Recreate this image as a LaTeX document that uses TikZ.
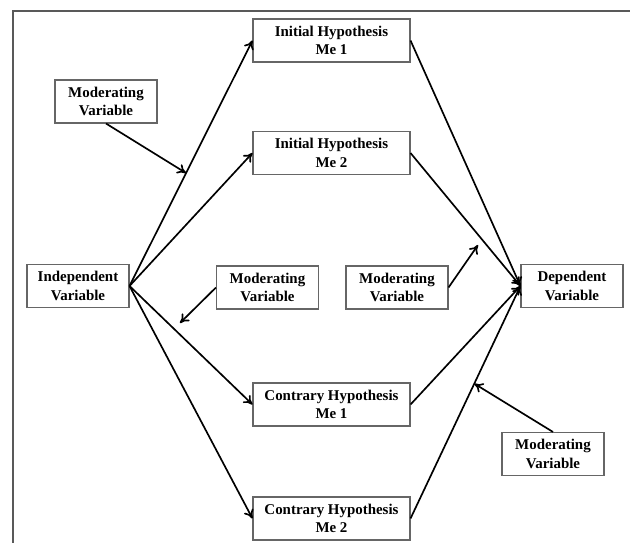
\documentclass[tikz,border=0pt]{standalone}
\usepackage{fontspec}
\setmainfont{Liberation Serif}
\usetikzlibrary{arrows.meta}

\begin{document}
\begin{tikzpicture}[
    var/.style={draw=black!60, line width=0.6pt, align=center, minimum width=2.04cm, minimum height=0.86cm, inner sep=1pt, font=\bfseries\fontsize{8.5}{10.4}\selectfont},
    hyp/.style={var, minimum width=3.14cm},
    link/.style={-{To[length=5pt,width=6pt]}, line width=0.95pt}]
                \useasboundingbox (0,0) rectangle (12.6,-10.86);
                \draw[black!65, line width=0.8pt] (0.26,-10.86) -- (0.26,-0.22) -- (12.6,-0.22);
                % variables
                \node[var] (indep) at (1.56,-5.72) {Independent\\Variable};
                \node[var] (dep) at (11.44,-5.72) {Dependent\\Variable};
                \node[hyp] (init1) at (6.63,-0.81) {Initial Hypothesis\\Me 1};
                \node[hyp] (init2) at (6.63,-3.06) {Initial Hypothesis\\Me 2};
                \node[hyp] (con1) at (6.63,-8.09) {Contrary Hypothesis\\Me 1};
                \node[hyp] (con2) at (6.63,-10.37) {Contrary Hypothesis\\Me 2};
                % moderators
                \node[var] (modA) at (2.12,-2.03) {Moderating\\Variable};
                \node[var] (modB) at (5.35,-5.75) {Moderating\\Variable};
                \node[var] (modC) at (7.94,-5.75) {Moderating\\Variable};
                \node[var] (modD) at (11.06,-9.08) {Moderating\\Variable};
                % paths
                \draw[link] (indep.east) -- (init1.west) coordinate[pos=0.46] (mA);
                \draw[link] (indep.east) -- (init2.west);
                \draw[link] (indep.east) -- (con1.west);
                \draw[link] (indep.east) -- (con2.west);
                \draw[link] (init1.east) -- (dep.west);
                \draw[link] (init2.east) -- (dep.west);
                \draw[link] (con1.east) -- (dep.west);
                \draw[link] (con2.east) -- (dep.west) coordinate[pos=0.58] (mD);
                \coordinate (mB) at (3.6,-6.46);
                \coordinate (mC) at (9.56,-4.9);
                \draw[link] (modA.south) -- (mA);
                \draw[link] (modB.west) -- (mB);
                \draw[link] (modC.east) -- (mC);
                \draw[link] (modD.north) -- (mD);
            \end{tikzpicture}
\end{document}
